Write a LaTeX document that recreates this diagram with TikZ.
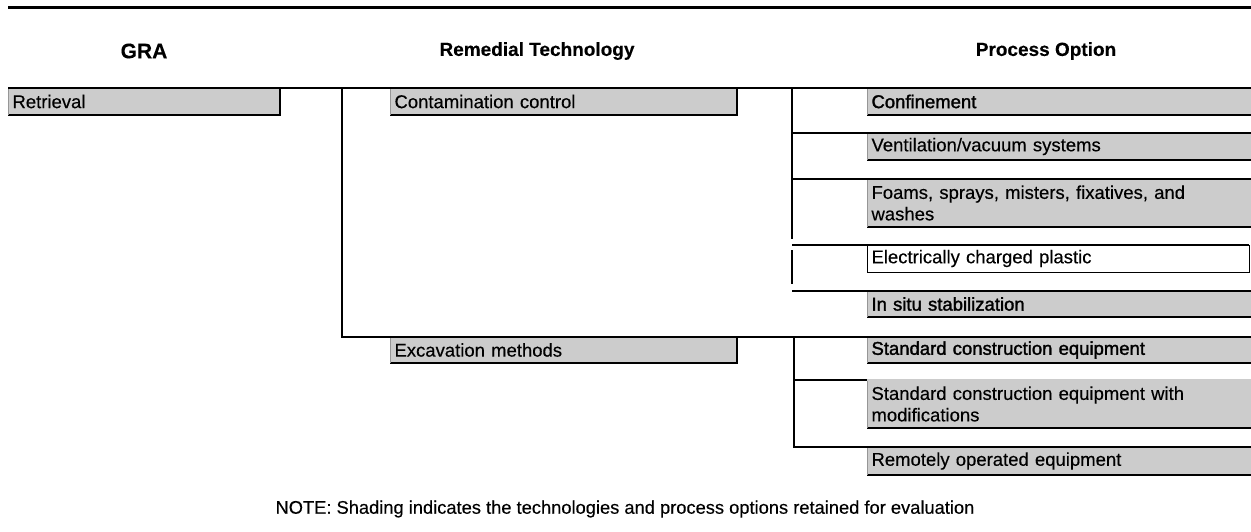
\documentclass[tikz,border=0pt]{standalone}
\usepackage{fontspec}
\setmainfont[FakeBold=0.3]{Liberation Sans}
\newfontfamily\fbold[FakeBold=1.6]{Liberation Sans}
\definecolor{shadefill}{RGB}{204,204,204}
\definecolor{leftgray}{RGB}{150,150,150}
\tikzset{
  conn/.style={line width=2pt, black},
  shadowedge/.style={line width=2.4pt, black},
  leftedge/.style={line width=1pt, leftgray},
  pbox/.style={fill=shadefill, draw=none, inner xsep=4.5pt, inner ysep=0pt, outer sep=0pt,
    anchor=north west, align=left, font=\fontsize{18.5}{21.5}\selectfont},
  wbox/.style={pbox, fill=white},
  hdr/.style={font=\fontsize{19}{23}\selectfont\bfseries, inner sep=0pt},
}
\begin{document}
\begin{tikzpicture}[x=1pt,y=-1pt]
\useasboundingbox (0,0) rectangle (1251,531);
\clip (0,0) rectangle (1251,531);
% top rule
\coordinate (ruleL) at (8,7);
\coordinate (ruleR) at (1251,7);
\draw[line width=3pt] (ruleL) -- (ruleR);
% headers
\node[hdr] (hGRA) at (144,51) {\fontsize{21}{25}\selectfont GRA};
\node[hdr] (hRT) at (537,51) {Remedial Technology};
\node[hdr] (hPO) at (1046,51) {Process Option};
% boxes
\node[pbox, minimum width=272pt, minimum height=27pt, text width=263pt] (ret) at (8,88) {Retrieval};
\node[pbox, minimum width=347pt, minimum height=27pt, text width=338pt] (cc) at (390,88) {Contamination control};
\node[pbox, minimum width=347pt, minimum height=26pt, text width=338pt] (exc) at (390,337) {Excavation methods};
\node[pbox, minimum width=386pt, minimum height=27pt, text width=377pt] (conf) at (867,88) {\fbold Confinement};
\node[pbox, minimum width=386pt, minimum height=27pt, text width=377pt] (vent) at (867,133) {Ventilation/vacuum systems};
\node[pbox, minimum width=386pt, minimum height=48pt, text width=377pt] (foam) at (867,179) {Foams, sprays, misters, fixatives, and\\washes};
\node[wbox, minimum width=382pt, minimum height=27pt, text width=373pt] (elec) at (867,245) {Electrically charged plastic};
\node[pbox, minimum width=386pt, minimum height=26pt, text width=377pt] (insitu) at (867,291) {\fbold In situ stabilization};
\node[pbox, minimum width=386pt, minimum height=26pt, text width=377pt] (std) at (867,337) {\fbold Standard construction equipment};
\node[pbox, minimum width=386pt, minimum height=48pt, text width=377pt] (stdm) at (867,380) {Standard construction equipment with\\modifications};
\node[pbox, minimum width=386pt, minimum height=28pt, text width=377pt] (rem) at (867,447) {Remotely operated equipment};
% box edges (shadow on right and bottom, light left edge)
\foreach \b in {ret,cc,exc,conf,vent,foam,insitu,std,stdm,rem}{
  \draw[shadowedge] (\b.north east) -- (\b.south east) -- (\b.south west);
  \draw[leftedge] (\b.south west) -- (\b.north west);
}
\draw[line width=1pt] (elec.north east) -- (elec.south east) -- (elec.south west) -- (elec.north west);
% connectors
\coordinate (busA) at (342,88);
\coordinate (busB) at (792,88);
\coordinate (busC) at (794,337);
\draw[conn] (ret.north west) -- (conf.north east);
\draw[conn] (busA) -- (busA |- exc.north) -- (std.north east);
\draw[conn] (busB) -- (792,239);
\draw[conn] (busB |- vent.north) -- (vent.north east);
\draw[conn] (busB |- foam.north) -- (foam.north east);
\coordinate (busB2) at (792,250);
\draw[conn] (busB2) -- (792,284);
\draw[line width=2.6pt] (busB |- elec.north) -- (elec.north east);
\draw[line width=2.6pt] (busB |- insitu.north) -- (insitu.north east);
\draw[conn] (busC) -- (busC |- rem.north) -- (rem.north east);
\draw[conn] (busC |- stdm.north) -- (stdm.north west);
\draw[line width=2pt, black!20] (stdm.north west) -- (stdm.north east);
% note
\node[font=\fontsize{18.3}{21}\selectfont, inner sep=0pt] (note) at (625,509) {NOTE: Shading indicates the technologies and process options retained for evaluation};
\end{tikzpicture}
\end{document}
